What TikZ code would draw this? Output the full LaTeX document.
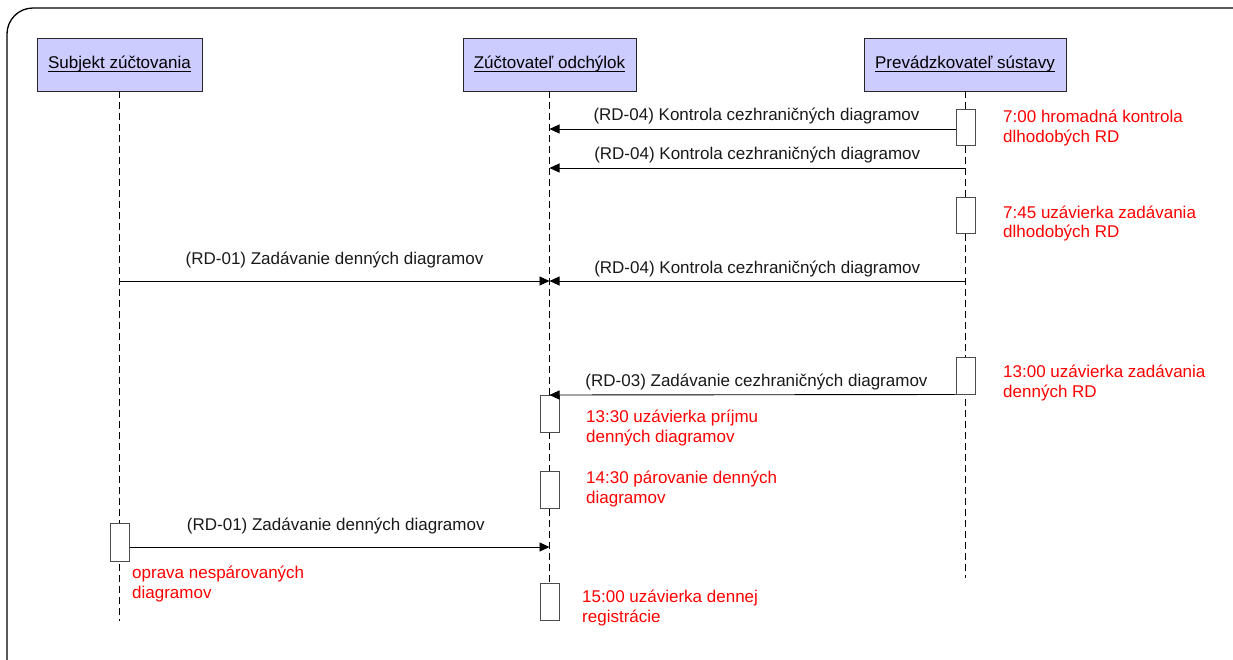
\documentclass[tikz,border=0pt]{standalone}
\usepackage{fontspec}
\setmainfont{Liberation Sans}
\usetikzlibrary{arrows.meta}
\definecolor{hdrfill}{RGB}{204,204,255}
\definecolor{notered}{RGB}{255,0,0}
\newcommand\hdrul[1]{\setbox0\hbox{#1}\rlap{\rule[-2.6pt]{\wd0}{0.9pt}}\box0}
\tikzset{
  hdr/.style={draw=black!85, fill=hdrfill, line width=0.9pt, minimum height=53pt, inner sep=0pt, font=\fontsize{17}{20}\selectfont},
  life/.style={draw=black, line width=0.8pt, dash pattern=on 7pt off 4pt},
  act/.style={draw=black!70, fill=white, line width=1pt, minimum width=19pt, inner sep=0pt},
  msg/.style={draw=black, line width=0.9pt, -{Triangle[length=10pt,width=9pt]}},
  msglbl/.style={font=\fontsize{17}{20}\selectfont, text=black!90, midway, anchor=base, inner sep=0pt},
  note/.style={font=\fontsize{17}{20}\selectfont, text=notered, align=left, anchor=base west, inner sep=0pt},
}
\begin{document}
\begin{tikzpicture}[x=1pt,y=-1pt]
\useasboundingbox (0,0) rectangle (1233,660);
\begin{scope}
\clip (0,0) rectangle (1233,660);
\draw[line width=1.3pt, rounded corners=26pt] (7,8) rectangle (1262,690);
\end{scope}
% headers
\node[hdr, minimum width=165pt] (sz) at (119.5,64.5) {\hdrul{Subjekt zúčtovania}};
\node[hdr, minimum width=173pt] (zo) at (549.5,64.5) {\hdrul{Zúčtovateľ odchýlok}};
\node[hdr, minimum width=202pt] (ps) at (965,64.5) {\hdrul{Prevádzkovateľ sústavy}};
% lifeline ends
\coordinate (szend) at (119.5,621);
\coordinate (zoend) at (549.5,620);
\coordinate (psend) at (965,578);
\draw[life] (sz.south) -- (szend);
\draw[life] (zo.south) -- (zoend);
\draw[life] (ps.south) -- (psend);
% activations
\node[act, minimum height=36pt] (ps1) at (965.5,128) {};
\node[act, minimum height=36pt] (ps2) at (965.5,216) {};
\node[act, minimum height=37pt] (ps3) at (965.5,375.5) {};
\node[act, minimum height=37pt] (zo1) at (549.5,413.5) {};
\node[act, minimum height=37pt] (zo2) at (549.5,489.5) {};
\node[act, minimum height=37pt] (zo3) at (549.5,601.5) {};
\node[act, minimum height=38pt] (sz1) at (120,542) {};
% lifeline coordinates
\coordinate (zoA) at (549.5,129);
\coordinate (psB) at (965,168);
\coordinate (zoB) at (549.5,168);
\coordinate (psC) at (965,281);
\coordinate (zoC) at (549.5,281);
\coordinate (szC) at (119.5,281);
\coordinate (zoD) at (549.5,395);
\coordinate (zoE) at (549.5,547);
% messages
\draw[msg] (ps1.west |- zoA) -- node[msglbl, yshift=8pt, xshift=4pt] {(RD-04) Kontrola cezhraničných diagramov} (zoA);
\draw[msg] (psB) -- node[msglbl, yshift=8pt] {(RD-04) Kontrola cezhraničných diagramov} (zoB);
\draw[msg] (psC) -- node[msglbl, yshift=8pt] {(RD-04) Kontrola cezhraničných diagramov} (zoC);
\draw[msg] (szC) -- node[msglbl, yshift=17pt] {(RD-01) Zadávanie denných diagramov} (zoC);
\draw[msg] (ps3.south west) -- node[msglbl, yshift=8pt, xshift=4pt] {(RD-03) Zadávanie cezhraničných diagramov} (zoD);
\draw[msg] (sz1.east |- zoE) -- node[msglbl, yshift=17pt, xshift=-4pt] {(RD-01) Zadávanie denných diagramov} (zoE);
% notes (base = baseline of the last line)
\node[note] (n1) at (1003,143) {7:00 hromadná kontrola\\dlhodobých RD};
\node[note] (n2) at (1003,238) {7:45 uzávierka zadávania\\dlhodobých RD};
\node[note] (n3) at (1003,397) {13:00 uzávierka zadávania\\denných RD};
\node[note] (n4) at (586,442) {13:30 uzávierka príjmu\\denných diagramov};
\node[note] (n5) at (586,503) {14:30 párovanie denných\\diagramov};
\node[note] (n6) at (582,622) {15:00 uzávierka dennej\\registrácie};
\node[note] (n7) at (132,598) {oprava nespárovaných\\diagramov};
\end{tikzpicture}
\end{document}
